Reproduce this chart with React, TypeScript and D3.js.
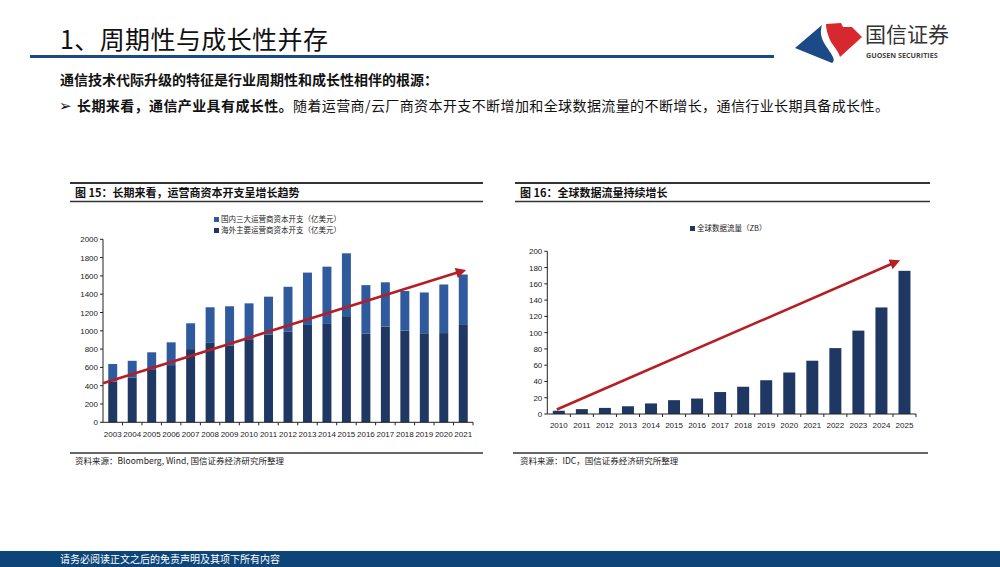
import React from 'react';
import * as d3 from 'd3';

const capexYears = ['2003','2004','2005','2006','2007','2008','2009','2010','2011','2012','2013','2014','2015','2016','2017','2018','2019','2020','2021'];
const overseasCapex = [444, 488, 572, 625, 800, 868, 840, 900, 960, 990, 1064, 1075, 1160, 968, 1046, 1002, 973, 975, 1064];
const domesticCapex = [193, 184, 193, 249, 282, 389, 428, 400, 413, 491, 572, 626, 687, 531, 484, 433, 446, 531, 551];
const capexTicks = [0, 200, 400, 600, 800, 1000, 1200, 1400, 1600, 1800, 2000];
const capexTrend = [426, 1654];

const trafficYears = ['2010','2011','2012','2013','2014','2015','2016','2017','2018','2019','2020','2021','2022','2023','2024','2025'];
const trafficZB = [4, 6, 7.5, 9.5, 13, 17, 19, 27, 33.5, 41.5, 51, 65.5, 81, 102.5, 131, 176];
const trafficTicks = [0, 20, 40, 60, 80, 100, 120, 140, 160, 180, 200];
const trafficTrend = [5.5, 188];

const CJK = '"Noto Sans CJK SC", "Noto Sans", sans-serif';
const NUM = '"Liberation Sans", Arial, sans-serif';
const LIGHT = '#2F5A9E';
const DARK = '#1F3763';
const RED = '#B51F24';

function LeftChart() {
  const x = d3.scaleBand<string>().domain(capexYears).range([103, 473]).paddingInner(0.54).paddingOuter(0.27);
  const y = d3.scaleLinear().domain([0, 2000]).range([422.3, 239.3]);
  const rows = capexYears.map((yr, i) => ({ year: yr, overseas: overseasCapex[i], domestic: domesticCapex[i] }));
  const stack = d3.stack<any>().keys(['overseas', 'domestic'])(rows);
  const colors = [DARK, LIGHT];
  const bw = x.bandwidth();
  const step = x.step();
  const x0 = x.range()[0];
  const x1 = x.range()[1];
  return (
    <g>
      {stack.map((layer, li) => (
        <g key={li} fill={colors[li]}>
          {layer.map((d: any, i: number) => (
            <rect key={i} x={x(capexYears[i])} width={bw} y={y(d[1])} height={y(d[0]) - y(d[1])} />
          ))}
        </g>
      ))}
      <line x1={x0} x2={x0} y1={y(2000)} y2={y(0)} stroke="#222" strokeWidth={1} />
      <line x1={x0} x2={x1} y1={y(0)} y2={y(0)} stroke="#222" strokeWidth={1} />
      {capexTicks.map(t => (
        <g key={t}>
          <line x1={x0 - 3} x2={x0} y1={y(t)} y2={y(t)} stroke="#222" strokeWidth={1} />
          <text x={x0 - 5} y={y(t) + 3} fontSize={8} fontFamily={NUM} textAnchor="end" fill="#222">{t}</text>
        </g>
      ))}
      {capexYears.map((yr, i) => (
        <g key={yr}>
          <line x1={x0 + step * (i + 1)} x2={x0 + step * (i + 1)} y1={y(0)} y2={y(0) + 3} stroke="#222" strokeWidth={1} />
          <text x={(x(yr) as number) + bw / 2} y={437} fontSize={8} fontFamily={NUM} textAnchor="middle" fill="#222">{yr}</text>
        </g>
      ))}
      <line x1={x0} y1={y(capexTrend[0])} x2={(x('2021') as number) + bw / 2 - 5} y2={y(capexTrend[1]) + 1.4} stroke={RED} strokeWidth={2.6} markerEnd="url(#arrowL)" />
      <rect x={214} y={217} width={5} height={5} fill={LIGHT} />
      <text x={221} y={222} fontSize={7.5} fontFamily={CJK} fill="#222">国内三大运营商资本开支（亿美元）</text>
      <rect x={214} y={228} width={5} height={5} fill={DARK} />
      <text x={221} y={233} fontSize={7.5} fontFamily={CJK} fill="#222">海外主要运营商资本开支（亿美元）</text>
    </g>
  );
}

function RightChart() {
  const x = d3.scaleBand<string>().domain(trafficYears).range([547.3, 916]).paddingInner(0.48).paddingOuter(0.24);
  const y = d3.scaleLinear().domain([0, 200]).range([414, 251.3]);
  const bw = x.bandwidth();
  const step = x.step();
  const x0 = x.range()[0];
  const x1 = x.range()[1];
  return (
    <g>
      {trafficZB.map((v, i) => (
        <rect key={i} x={x(trafficYears[i])} width={bw} y={y(v)} height={y(0) - y(v)} fill={DARK} />
      ))}
      <line x1={x0} x2={x0} y1={y(200)} y2={y(0)} stroke="#222" strokeWidth={1} />
      <line x1={x0} x2={x1} y1={y(0)} y2={y(0)} stroke="#222" strokeWidth={1} />
      {trafficTicks.map(t => (
        <g key={t}>
          <line x1={x0 - 3} x2={x0} y1={y(t)} y2={y(t)} stroke="#222" strokeWidth={1} />
          <text x={x0 - 5} y={y(t) + 3} fontSize={8} fontFamily={NUM} textAnchor="end" fill="#222">{t}</text>
        </g>
      ))}
      {trafficYears.map((yr, i) => (
        <g key={yr}>
          <line x1={x0 + step * (i + 1)} x2={x0 + step * (i + 1)} y1={y(0)} y2={y(0) + 3} stroke="#222" strokeWidth={1} />
          <text x={(x(yr) as number) + bw / 2} y={428} fontSize={8} fontFamily={NUM} textAnchor="middle" fill="#222">{yr}</text>
        </g>
      ))}
      <line x1={(x('2010') as number) + bw / 2 - 2} y1={y(trafficTrend[0])} x2={(x('2025') as number) - 6} y2={y(trafficTrend[1]) + 2.5} stroke={RED} strokeWidth={2.6} markerEnd="url(#arrowR)" />
      <rect x={690} y={226} width={5} height={5} fill={DARK} />
      <text x={697} y={231} fontSize={7.5} fontFamily={CJK} fill="#222">全球数据流量（ZB）</text>
    </g>
  );
}

export default function App() {
  return (
    <svg width={1000} height={567} style={{ position: 'absolute', left: 0, top: 0, display: 'block', background: '#fff' }}>
      <defs>
        <marker id="arrowL" viewBox="0 0 10 10" refX={2} refY={5} markerWidth={4.4} markerHeight={4} orient="auto">
          <path d="M0,0 L10,5 L0,10 Z" fill={RED} />
        </marker>
        <marker id="arrowR" viewBox="0 0 10 10" refX={2} refY={5} markerWidth={4.4} markerHeight={4} orient="auto">
          <path d="M0,0 L10,5 L0,10 Z" fill={RED} />
        </marker>
      </defs>
      <rect width={1000} height={567} fill="#fff" />
      {/* header */}
      <text x={60} y={49} fontSize={25} fontFamily={CJK} fill="#111" letterSpacing={0.4}>1、周期性与成长性并存</text>
      <line x1={30} x2={774} y1={56.5} y2={56.5} stroke="#1B4A7C" strokeWidth={3} />
      {/* logo */}
      <path d="M795,48 L822,25 C818,38 826,45 830,52 C834,58 835,61 832,63 Z" fill="#1C4A86" />
      <path d="M826,24 L841,23 L843,27 L852,27 L862,37 L840,57 C838,50 833,46 830,40 C828,35 826,30 826,24 Z" fill="#D7282F" />
      <text x={865} y={42} fontSize={21} fontFamily={CJK} fill="#333">国信证券</text>
      <text x={866} y={58} fontSize={7.2} fontFamily={'"Open Sans", "Liberation Sans", sans-serif'} fontWeight={700} fill="#444">GUOSEN SECURITIES</text>
      {/* body text */}
      <text x={60} y={85} fontSize={14} fontFamily={CJK} fontWeight={700} fill="#111">通信技术代际升级的特征是行业周期性和成长性相伴的根源：</text>
      <text x={59} y={111} fontSize={15} fontFamily={'"DejaVu Sans", sans-serif'} fill="#111">➢</text>
      <text x={77} y={111} fontSize={14} fontFamily={CJK} fill="#111" letterSpacing={0.4}>
        <tspan fontWeight={700}>长期来看，通信产业具有成长性。</tspan>
        <tspan>随着运营商/云厂商资本开支不断增加和全球数据流量的不断增长，通信行业长期具备成长性。</tspan>
      </text>
      {/* left chart frame */}
      <line x1={70} x2={483} y1={183} y2={183} stroke="#333" strokeWidth={2} />
      <text x={75} y={197} fontSize={11} fontFamily={CJK} fontWeight={700} fill="#111">图 15：长期来看，运营商资本开支呈增长趋势</text>
      <line x1={70} x2={483} y1={201.5} y2={201.5} stroke="#333" strokeWidth={1.3} />
      <line x1={70} x2={483} y1={453} y2={453} stroke="#333" strokeWidth={1.3} />
      <text x={75} y={464} fontSize={8.5} fontFamily={CJK} fill="#222">资料来源：Bloomberg, Wind, 国信证券经济研究所整理</text>
      {/* right chart frame */}
      <line x1={515} x2={930} y1={183} y2={183} stroke="#333" strokeWidth={2} />
      <text x={520} y={197} fontSize={11} fontFamily={CJK} fontWeight={700} fill="#111">图 16：全球数据流量持续增长</text>
      <line x1={515} x2={930} y1={201.5} y2={201.5} stroke="#333" strokeWidth={1.3} />
      <line x1={513} x2={928} y1={453} y2={453} stroke="#333" strokeWidth={1.3} />
      <text x={520} y={464} fontSize={8.5} fontFamily={CJK} fill="#222">资料来源：IDC，国信证券经济研究所整理</text>
      <LeftChart />
      <RightChart />
      {/* footer */}
      <rect x={0} y={551} width={1000} height={16} fill="#0D4579" />
      <text x={60} y={563} fontSize={10} fontFamily={CJK} fill="#fff">请务必阅读正文之后的免责声明及其项下所有内容</text>
    </svg>
  );
}
